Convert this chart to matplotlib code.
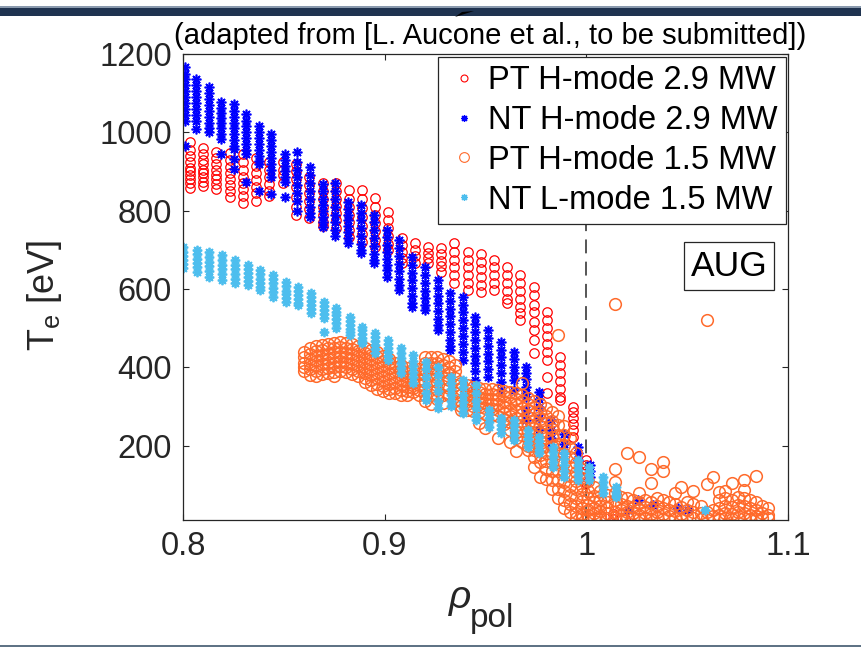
import matplotlib
matplotlib.use("Agg")
import matplotlib.pyplot as plt
from matplotlib.lines import Line2D
from matplotlib.patches import Rectangle, Polygon

plt.rcParams["font.family"] = ["Liberation Sans", "DejaVu Sans"]
plt.rcParams["mathtext.fontset"] = "custom"
plt.rcParams["mathtext.rm"] = "Liberation Sans"
plt.rcParams["mathtext.it"] = "Liberation Sans:italic"
plt.rcParams["lines.scale_dashes"] = False

# ---------------- data: Te profiles vs rho_pol ----------------
# PT H-mode 2.9 MW (ECE channels: radial position, Te samples in eV)
pt29_rho = [0.8035, 0.8100, 0.8164, 0.8234, 0.8299, 0.8363, 0.8428, 0.8498,
            0.8562, 0.8627, 0.8692, 0.8761, 0.8821, 0.8886, 0.8950, 0.9015,
            0.9085, 0.9149, 0.9214, 0.9279, 0.9343, 0.9413, 0.9478, 0.9542,
            0.9607, 0.9672, 0.9741, 0.9806, 0.9871, 0.9935, 1.0000, 1.0134,
            1.0190]
pt29_te = [
    [975, 955, 940, 925, 910, 900, 890, 880, 870, 858],
    [960, 945, 930, 918, 905, 895, 885, 872, 862],
    [950, 935, 920, 905, 892, 880, 868, 855],
    [948, 930, 912, 895, 880, 865, 850, 835],
    [945, 925, 905, 885, 870, 855, 838, 820],
    [935, 915, 895, 878, 860, 845, 825],
    [925, 905, 885, 868, 850, 838],
    [925, 905, 890, 870],
    [920, 900, 880, 860, 835, 810, 790],
    [885, 865, 845, 825, 805, 782],
    [870, 850, 830, 810, 790, 770, 760],
    [870, 850, 830, 812, 795, 775, 756],
    [853, 830, 810, 790, 770, 750, 733],
    [853, 830, 808, 785, 762, 740, 720],
    [832, 810, 790, 768, 748, 725, 707],
    [797, 775, 755, 735, 715, 700],
    [730, 712, 695, 680, 666],
    [717, 700, 685, 666],
    [707, 692, 678, 666],
    [704, 688, 672, 658, 643],
    [717, 695, 675, 655, 635, 615],
    [694, 675, 655, 635, 615, 597],
    [690, 670, 650, 630, 610, 592],
    [674, 655, 635, 615, 597],
    [656, 635, 615, 595, 575, 564],
    [636, 615, 595, 575, 555, 538, 521],
    [605, 585, 560, 540, 515, 495, 470, 436],
    [541, 520, 500, 480, 460, 440, 419, 375, 334],
    [426, 405, 385, 365, 345, 325, 316],
    [299, 285, 270, 255, 240, 222],
    [163, 150, 135, 120, 105],
    [12, 25],
    [12],
]

# NT H-mode 2.9 MW
nt29_rho = [0.8010, 0.8065, 0.8129, 0.8189, 0.8254, 0.8313, 0.8378, 0.8438,
            0.8507, 0.8567, 0.8632, 0.8692, 0.8756, 0.8816, 0.8881, 0.8945,
            0.9010, 0.9070, 0.9134, 0.9199, 0.9264, 0.9323, 0.9388, 0.9448,
            0.9512, 0.9577, 0.9642, 0.9701, 0.9766, 0.9826, 0.9891, 0.9960,
            1.0020, 1.0207, 1.0257, 1.0332, 1.0456, 1.0506]
nt29_te = [
    [1167, 1150, 1135, 1120, 1105, 1090, 1075, 1060, 1045, 1029, 965],
    [1136, 1120, 1105, 1090, 1075, 1060, 1045, 1030, 1008],
    [1116, 1100, 1085, 1070, 1055, 1040, 1025, 1010, 1001],
    [1077, 1063, 1050, 1037, 1024, 1010, 996, 983, 945],
    [1072, 1055, 1040, 1025, 1010, 995, 980, 965, 957, 931, 906],
    [1047, 1030, 1015, 1000, 985, 970, 955, 945, 873],
    [1016, 1000, 985, 970, 955, 940, 928, 919, 850],
    [996, 980, 965, 950, 935, 920, 905, 886, 842],
    [945, 930, 915, 900, 885, 873, 835],
    [950, 925, 905, 885, 865, 845, 825, 799],
    [911, 890, 870, 850, 830, 810, 795, 784],
    [868, 850, 830, 815, 800, 785, 770, 758],
    [870, 850, 830, 810, 790, 770, 750, 735],
    [822, 805, 790, 775, 760, 745, 730, 717],
    [814, 795, 775, 755, 735, 715, 700, 692],
    [789, 770, 750, 730, 710, 690, 675, 666],
    [751, 732, 713, 695, 677, 660, 648, 631],
    [725, 705, 685, 665, 645, 625, 610, 597],
    [682, 662, 642, 622, 602, 582, 565, 554],
    [656, 636, 616, 596, 576, 560, 546],
    [623, 603, 583, 563, 543, 523, 508, 495],
    [590, 570, 550, 530, 510, 490, 470, 455, 444],
    [580, 560, 540, 520, 500, 480, 460, 440, 419],
    [529, 510, 490, 470, 450, 430, 410, 390, 368, 350],
    [495, 475, 455, 435, 415, 395, 375],
    [465, 445, 425, 405, 385, 362, 342],
    [439, 420, 400, 385, 368, 342],
    [401, 385, 370, 350, 335, 324, 290, 265],
    [337, 320, 299, 270, 240],
    [265, 240, 220, 197],
    [230, 205, 180],
    [197, 180, 163],
    [150, 135, 120],
    [36],
    [61],
    [49],
    [41],
    [36],
]

# PT H-mode 1.5 MW (edge profile, many time slices)
pt15_rho = [0.860, 0.863, 0.866, 0.869, 0.872, 0.875, 0.878, 0.881, 0.884,
            0.887, 0.890, 0.893, 0.896, 0.899, 0.902, 0.905, 0.908, 0.911,
            0.914, 0.917, 0.920, 0.923, 0.926, 0.929, 0.932, 0.935, 0.938,
            0.941, 0.944, 0.947, 0.950, 0.953, 0.956, 0.959, 0.962, 0.965,
            0.968, 0.971, 0.974, 0.977, 0.980, 0.983, 0.986, 0.989, 0.992,
            0.995, 0.998, 1.001, 1.004, 1.007, 1.010, 1.014, 1.017, 1.020,
            1.023, 1.026, 1.029, 1.032, 1.035, 1.038, 1.041, 1.044, 1.047,
            1.050, 1.053, 1.057, 1.060, 1.063, 1.066, 1.069, 1.072, 1.075,
            1.078, 1.081, 1.084, 1.087, 1.090]
pt15_te = [
    [440, 425, 412, 400, 390],
    [450, 435, 420, 408, 395, 380],
    [455, 442, 428, 415, 402, 390, 378],
    [458, 445, 432, 420, 408, 395, 382],
    [460, 448, 435, 422, 410, 398, 385],
    [462, 450, 438, 425, 412, 400, 388, 378],
    [465, 452, 440, 428, 415, 402, 390],
    [462, 450, 437, 425, 412, 400, 388],
    [460, 447, 434, 421, 408, 395, 383],
    [455, 442, 430, 417, 404, 391, 378],
    [450, 437, 424, 411, 398, 385, 372, 362],
    [445, 432, 419, 406, 393, 380, 367, 355],
    [438, 425, 412, 398, 385, 372, 358, 345],
    [430, 417, 404, 391, 378, 365, 352, 340],
    [422, 410, 397, 384, 371, 358, 345, 335],
    [412, 400, 388, 375, 362, 348, 335],
    [405, 393, 380, 368, 355, 342, 330],
    [398, 386, 374, 362, 350, 340, 330],
    [395, 384, 372, 360, 348, 338],
    [395, 382, 368, 355, 342, 330],
    [425, 410, 395, 380, 362, 345, 330, 315],
    [425, 412, 398, 383, 368, 350, 330, 305],
    [425, 410, 395, 380, 362, 342, 320],
    [420, 405, 390, 372, 352, 330, 310],
    [415, 400, 385, 368, 348, 330],
    [405, 390, 372, 355, 335, 315],
    [360, 345, 330, 315, 300, 290],
    [355, 342, 330, 318, 305, 290],
    [350, 338, 326, 314, 300, 288],
    [348, 336, 324, 312, 298, 285, 258],
    [345, 333, 320, 308, 295, 280, 245],
    [345, 332, 320, 307, 293, 278],
    [343, 330, 318, 305, 290, 275, 220],
    [340, 326, 312, 298, 284, 268, 255],
    [338, 323, 308, 292, 276, 260, 240, 210],
    [335, 320, 305, 288, 270, 252, 235, 220, 185],
    [360, 330, 314, 297, 280, 262, 244, 226, 210],
    [322, 306, 290, 272, 254, 236, 218, 200, 188],
    [315, 298, 280, 262, 244, 226, 208, 190, 172, 145],
    [305, 287, 268, 250, 232, 213, 195, 176, 158, 120],
    [295, 276, 257, 238, 219, 200, 180, 160, 140, 115],
    [285, 264, 243, 222, 200, 178, 156, 134, 112, 90],
    [482, 275, 252, 228, 205, 182, 158, 135, 112, 88, 65],
    [250, 226, 202, 178, 155, 131, 108, 85, 62, 40],
    [220, 195, 170, 146, 122, 98, 75, 52, 30],
    [180, 156, 132, 110, 88, 66, 45, 28, 15],
    [140, 118, 96, 76, 58, 40, 25, 14],
    [110, 85, 65, 48, 35, 22, 12],
    [95, 72, 55, 40, 28, 16],
    [85, 62, 45, 32, 20, 12],
    [75, 55, 40, 28, 16],
    [562, 140, 107, 79, 60, 45, 30, 18],
    [70, 50, 35, 22, 12],
    [181, 65, 45, 30, 18],
    [60, 42, 28, 15],
    [171, 79, 55, 38, 24, 12],
    [60, 42, 28, 15],
    [140, 105, 55, 38, 25, 12],
    [65, 45, 30, 18],
    [158, 135, 60, 40, 25, 12],
    [55, 36, 20],
    [79, 50, 32, 15],
    [94, 42, 25, 12],
    [55, 35, 20],
    [84, 50, 30, 15],
    [45, 28, 12],
    [521, 102, 30, 15],
    [120, 35, 20],
    [82, 60, 40, 22, 12],
    [84, 65, 45, 28, 15],
    [105, 60, 42, 25, 12],
    [70, 48, 30, 15],
    [112, 87, 65, 45, 28, 14],
    [60, 40, 22, 12],
    [123, 55, 35, 20, 12],
    [45, 28, 14],
    [40, 23, 14],
    [23, 12],
]

# NT L-mode 1.5 MW
ntl15_rho = [0.8000, 0.8070, 0.8129, 0.8194, 0.8259, 0.8323, 0.8383, 0.8448,
             0.8512, 0.8572, 0.8637, 0.8701, 0.8761, 0.8826, 0.8886, 0.8950,
             0.9015, 0.9080, 0.9139, 0.9204, 0.9264, 0.9328, 0.9388, 0.9453,
             0.9517, 0.9577, 0.9642, 0.9711, 0.9766, 0.9836, 0.9891, 0.9960,
             1.0015, 1.0085, 1.0149, 1.0589]
ntl15_te = [
    [707, 695, 685, 675, 665, 654],
    [699, 688, 677, 666, 655, 643],
    [694, 682, 670, 658, 645, 631],
    [687, 675, 662, 650, 637, 623],
    [674, 662, 650, 638, 626, 615],
    [661, 650, 640, 630, 620, 610],
    [648, 637, 626, 615, 605, 597],
    [636, 625, 614, 603, 592, 580],
    [618, 607, 596, 586, 576, 567],
    [605, 595, 585, 575, 565, 559],
    [590, 580, 570, 560, 550, 539],
    [567, 557, 547, 537, 526, 490],
    [551, 542, 533, 524, 513, 500],
    [529, 519, 509, 499, 490, 483],
    [503, 494, 485, 476, 468, 462],
    [488, 478, 467, 457, 447, 437],
    [470, 460, 450, 440, 430, 419],
    [449, 436, 423, 410, 397, 385],
    [431, 417, 403, 389, 375, 360],
    [414, 395, 375, 355, 335, 317],
    [401, 380, 360, 340, 315, 295],
    [375, 360, 345, 330, 315, 300],
    [368, 350, 330, 312, 295, 283],
    [355, 335, 315, 295, 275, 265],
    [291, 280, 270, 260, 248],
    [271, 262, 252, 242, 232],
    [265, 252, 240, 227, 214],
    [240, 228, 217, 206, 197],
    [222, 212, 201, 190, 181],
    [197, 183, 170, 158, 146],
    [181, 165, 150, 135, 120],
    [163, 150, 137, 124, 112],
    [146, 135, 124, 112],
    [120, 107, 93, 79],
    [94, 82, 75, 69],
    [36],
]

labels = ["PT H-mode 2.9 MW", "NT H-mode 2.9 MW", "PT H-mode 1.5 MW",
          "NT L-mode 1.5 MW"]
x_ticks = [0.8, 0.9, 1.0, 1.1]
x_ticklabels = ["0.8", "0.9", "1", "1.1"]
y_ticks = [200, 400, 600, 800, 1000, 1200]
separatrix = 1.0


def flatten(rho, te):
    xs, ys = [], []
    for r, vals in zip(rho, te):
        xs.extend([r] * len(vals))
        ys.extend(vals)
    return xs, ys


RED = "#ff0000"
BLUE = "#0000ff"
ORANGE = "#ff6a2b"
LIGHT = "#4dbeee"
AXC = "#262626"
ASTER = (8, 2, 0)

styles = [
    dict(marker="o", color=RED, ms=6.8, mfc="none", mew=0.9),
    dict(marker=ASTER, color=BLUE, ms=7.0, mew=1.2),
    dict(marker="o", color=ORANGE, ms=8.4, mfc="none", mew=1.1),
    dict(marker=ASTER, color=LIGHT, ms=6.8, mew=1.3),
]
series = [(pt29_rho, pt29_te), (nt29_rho, nt29_te), (pt15_rho, pt15_te),
          (ntl15_rho, ntl15_te)]

W, H = 861, 649
fig = plt.figure(figsize=(W / 100, H / 100), dpi=100)
ax = fig.add_axes([183 / W, 1 - 520 / H, 605 / W, 466 / H])

for (rho, te), st in zip(series, styles):
    xs, ys = flatten(rho, te)
    ax.plot(xs, ys, linestyle="none", clip_on=True, **st)

ax.axvline(separatrix, color="#555555", lw=1.4, ls=(0, (10, 6)), zorder=1)

ax.set_xlim(0.8, 1.1)
ax.set_ylim(10, 1200)
ax.set_xticks(x_ticks)
ax.set_xticklabels(x_ticklabels)
ax.set_yticks(y_ticks)
ax.tick_params(direction="in", top=True, right=True, length=4.5, width=0.8,
               labelsize=23.5, colors=AXC, pad=8)
for sp in ax.spines.values():
    sp.set_color(AXC)
    sp.set_linewidth(0.9)

# legend
handles = [
    Line2D([], [], linestyle="none", marker="o", color=RED, ms=5.0, mfc="none", mew=0.8),
    Line2D([], [], linestyle="none", marker=ASTER, color=BLUE, ms=5.0, mew=0.9),
    Line2D([], [], linestyle="none", marker="o", color=ORANGE, ms=7.0, mfc="none", mew=0.8),
    Line2D([], [], linestyle="none", marker=ASTER, color=LIGHT, ms=5.0, mew=0.9),
]
leg = ax.legend(handles, labels, loc="upper right",
                bbox_to_anchor=((786 - 183) / 605, (520 - 57) / 466),
                borderaxespad=0, fontsize=23.5, frameon=True, fancybox=False,
                framealpha=1, edgecolor=AXC, borderpad=0.25, labelspacing=0.27,
                handlelength=1.1, handletextpad=0.2, numpoints=1)
leg.get_frame().set_linewidth(0.9)

ax.text((729 - 183) / 605, (520 - 266) / 466, "AUG", transform=ax.transAxes,
        ha="center", va="center", fontsize=25.5, color="black",
        bbox=dict(boxstyle="square,pad=0.2", fc="white", ec=AXC, lw=0.9))

# axis labels
fig.text(45 / W, 1 - 295 / H, r"T$_\mathregular{e}$ [eV]", rotation=90,
         ha="center", va="center", fontsize=26, color=AXC)
fig.text(460 / W, 1 - 600 / H, r"$\rho$",
         ha="center", va="center", fontsize=28, color=AXC)
fig.text(470 / W, 1 - 618 / H, "pol",
         ha="left", va="center", fontsize=24, color=AXC)

fig.text(490 / W, 1 - 36 / H, "(adapted from [L. Aucone et al., to be submitted])",
         ha="center", va="center", fontsize=21, color="black")

# slide frame decorations
fig.patches.append(Rectangle((0, 1 - 15.5 / H), 1, 8.5 / H, transform=fig.transFigure,
                             fc="#1f3350", ec="none"))
fig.patches.append(Rectangle((0, 1 - 7.5 / H), 1, 1.2 / H, transform=fig.transFigure,
                             fc="#8a9aae", ec="none"))
fig.patches.append(Polygon([(455 / W, 1 - 17 / H), (462 / W, 1 - 12 / H),
                            (474 / W, 1 - 11 / H)], closed=True,
                           transform=fig.transFigure, fc="black", ec="none"))
fig.patches.append(Rectangle((0, 1 - 647 / H), 1, 2 / H, transform=fig.transFigure,
                             fc="#5f7385", ec="none"))

fig.savefig("out.png", dpi=100)
